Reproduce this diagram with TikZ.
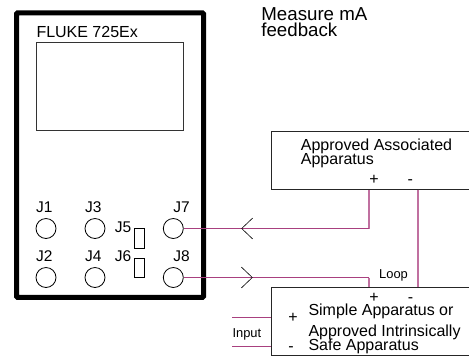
\documentclass[tikz,border=0pt]{standalone}
\usepackage{fontspec}
\setmainfont{Liberation Sans}
\begin{document}
\begin{tikzpicture}[x=1pt,y=-1pt,
  box/.style={draw=black,line width=0.8pt,inner sep=0pt,fill=none},
  jack/.style={draw=black,line width=0.8pt,circle,minimum size=20pt,inner sep=0pt},
  slot/.style={draw=black,line width=0.8pt,inner sep=0pt,minimum width=10pt,minimum height=19.6pt},
  wire/.style={draw=wirecol,line width=1.2pt},
  wirev/.style={draw=wirepale,line width=1.8pt},
  chev/.style={draw=black,line width=0.6pt},
  lab/.style={inner sep=0pt,anchor=base west,font=\fontsize{16}{18}\selectfont},
  big/.style={inner sep=0pt,anchor=base west,font=\fontsize{18.7}{20}\selectfont},
  jlab/.style={inner sep=0pt,anchor=base west,font=\fontsize{15.5}{17}\selectfont},
  small/.style={inner sep=0pt,anchor=base west,font=\fontsize{12.9}{15}\selectfont},
  sign/.style={inner sep=0pt,anchor=base,font=\fontsize{16}{18}\selectfont}]
\definecolor{wirecol}{HTML}{A8407F}
\definecolor{wirepale}{HTML}{C070A0}
\useasboundingbox (0,0) rectangle (469,360);
\node[draw=black,line width=5pt,rounded corners=1pt,inner sep=0pt,minimum width=187pt,minimum height=284.5pt] (case) at (110,155.2) {};
\node[box,draw=black!80,minimum width=147pt,minimum height=88pt] (screen) at (109.8,86.5) {};
\node[lab] (title) at (36.3,37) {FLUKE 725Ex};
\node[jack] (J1) at (46,228.5) {};
\node[jack] (J3) at (95,228.5) {};
\node[jack] (J7) at (173.3,228.5) {};
\node[jack] (J2) at (46,277.5) {};
\node[jack] (J4) at (95,277.5) {};
\node[jack] (J8) at (173.3,277.5) {};
\node[slot] (J5) at (139,238.5) {};
\node[slot] (J6) at (139,267.8) {};
\node[jlab] at (36,212.3) {J1};
\node[jlab] at (85,212.3) {J3};
\node[jlab] at (173.2,212.3) {J7};
\node[jlab] at (36,261) {J2};
\node[jlab] at (85,261) {J4};
\node[jlab] at (173.2,261) {J8};
\node[jlab] at (114.7,232) {J5};
\node[jlab] at (114.7,261) {J6};
\node[big] at (261.2,20.7) {Measure mA};
\node[big] at (261.2,36.7) {feedback};
\node[box,draw=black!85,minimum width=200pt,minimum height=58.5pt] (assoc) at (371,160.2) {};
\node[box,draw=black!85,minimum width=200pt,minimum height=67.6pt] (simple) at (371.3,321.2) {};
\node[lab] at (300.7,150.7) {Approved Associated};
\node[lab] at (300.7,164.7) {Apparatus};
\node[sign] at (374,184.7) {+};
\node[sign] at (410.3,184.7) {-};
\node[sign] at (374,302) {+};
\node[sign] at (410.5,302) {-};
\node[sign] at (293,322) {+};
\node[sign] at (291,351) {-};
\node[lab] at (308.3,315) {Simple Apparatus or};
\node[lab] at (308.3,336.5) {Approved Intrinsically};
\node[lab] at (308.3,350) {Safe Apparatus};
\node[small] at (379,278.3) {Loop};
\node[small] at (232.3,337) {Input};
\coordinate (aplus) at (369,189.5);
\coordinate (aminus) at (418,189.5);
\coordinate (splus) at (369,287.4);
\coordinate (sminus) at (418,287.4);
\coordinate (inA) at (232,317.5);
\coordinate (inB) at (232,346.5);
\coordinate (tipU) at (241.7,228.5);
\coordinate (tipL) at (252.3,277.5);
\draw[wirev] (aplus |- J7.east) -- (aplus);
\draw[wirev] (splus |- J8.east) -- (splus);
\draw[wirev] (aminus) -- (sminus);
\draw[wire] (J7.east) -- (aplus |- J7.east);
\draw[wire] (J8.east) -- (splus |- J8.east);
\draw[wire] (inA) -- (inA -| simple.west);
\draw[wire] (inB) -- (inB -| simple.west);
\draw[chev] ([shift={(11,-10.5)}]tipU) -- (tipU) -- ([shift={(11,10.5)}]tipU);
\draw[chev] ([shift={(-11,-10.5)}]tipL) -- (tipL) -- ([shift={(-11,10.5)}]tipL);
\end{tikzpicture}
\end{document}
